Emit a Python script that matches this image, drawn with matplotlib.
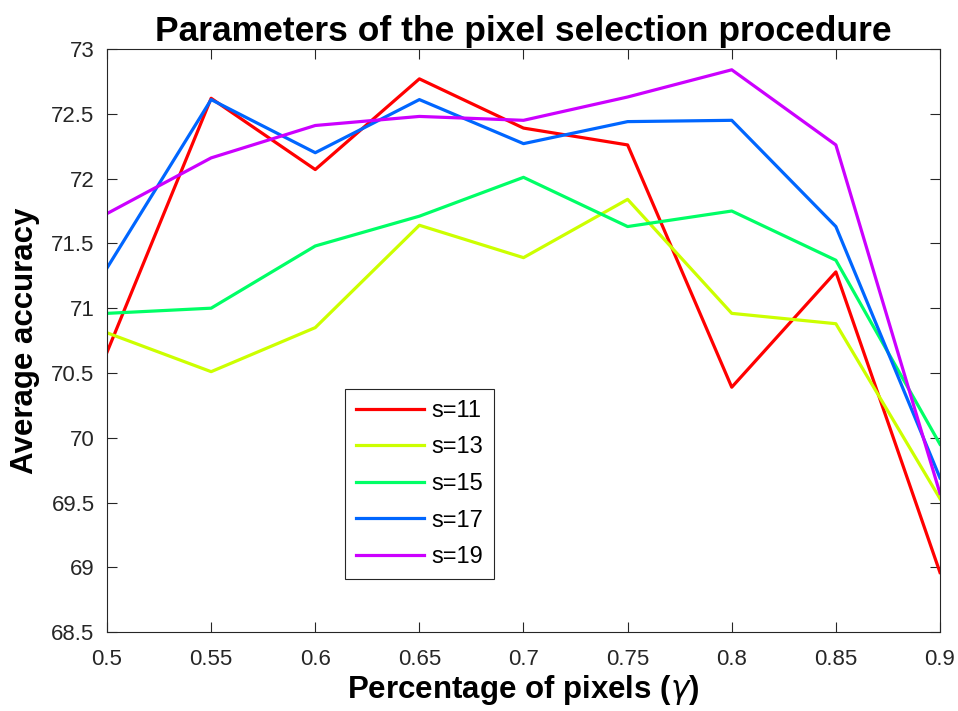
import matplotlib
matplotlib.use("Agg")
import matplotlib.pyplot as plt

plt.rcParams['font.family'] = ['Liberation Sans', 'DejaVu Sans']

# percentage of pixels kept (gamma)
gamma = [0.5, 0.55, 0.6, 0.65, 0.7, 0.75, 0.8, 0.85, 0.9]

# average accuracy for each window size s
acc_s11 = [70.66, 72.62, 72.07, 72.77, 72.39, 72.26, 70.39, 71.28, 68.96]
acc_s13 = [70.81, 70.51, 70.85, 71.64, 71.39, 71.84, 70.96, 70.88, 69.53]
acc_s15 = [70.96, 71.00, 71.48, 71.71, 72.01, 71.63, 71.75, 71.37, 69.95]
acc_s17 = [71.31, 72.61, 72.20, 72.61, 72.27, 72.44, 72.45, 71.63, 69.69]
acc_s19 = [71.73, 72.16, 72.41, 72.48, 72.45, 72.63, 72.84, 72.26, 69.57]

labels = ['s=11', 's=13', 's=15', 's=17', 's=19']
series = [acc_s11, acc_s13, acc_s15, acc_s17, acc_s19]
colors = [(1, 0, 0), (0.8, 1, 0), (0, 1, 0.4), (0, 0.4, 1), (0.8, 0, 1)]

fig = plt.figure(figsize=(9.58, 7.11), dpi=100)
ax = fig.add_axes([0.1117, 0.111, 0.8695, 0.820])

for vals, lab, col in zip(series, labels, colors):
    ax.plot(gamma, vals, color=col, lw=2.3, label=lab)

ax.set_xlim(0.5, 0.9)
ax.set_ylim(68.5, 73)
ax.set_xticks(gamma)
ax.set_xticklabels(['0.5', '0.55', '0.6', '0.65', '0.7', '0.75', '0.8', '0.85', '0.9'])
ax.set_yticks([68.5, 69, 69.5, 70, 70.5, 71, 71.5, 72, 72.5, 73])
ax.set_yticklabels(['68.5', '69', '69.5', '70', '70.5', '71', '71.5', '72', '72.5', '73'])

ax.tick_params(direction='in', top=True, right=True, length=7, width=0.8,
               labelsize=16, colors='#262626')
ax.tick_params(axis='x', pad=12)
ax.tick_params(axis='y', pad=9)
for sp in ax.spines.values():
    sp.set_color('#262626')
    sp.set_linewidth(0.8)

ax.set_title('Parameters of the pixel selection procedure', fontsize=25.5,
             fontweight='bold', pad=6)
ax.set_xlabel(r'Percentage of pixels ($\gamma$)', fontsize=22.5, fontweight='bold',
              labelpad=2)
ax.set_ylabel('Average accuracy', fontsize=22.5, fontweight='bold', labelpad=8)

leg = ax.legend(loc='lower left', bbox_to_anchor=(0.2857, 0.091), fontsize=17,
                fancybox=False, framealpha=1, edgecolor='#262626',
                handlelength=2.9, handletextpad=0.3, labelspacing=0.62,
                borderpad=0.45, borderaxespad=0)
leg.get_frame().set_linewidth(0.8)

fig.savefig('out.png', dpi=100)
